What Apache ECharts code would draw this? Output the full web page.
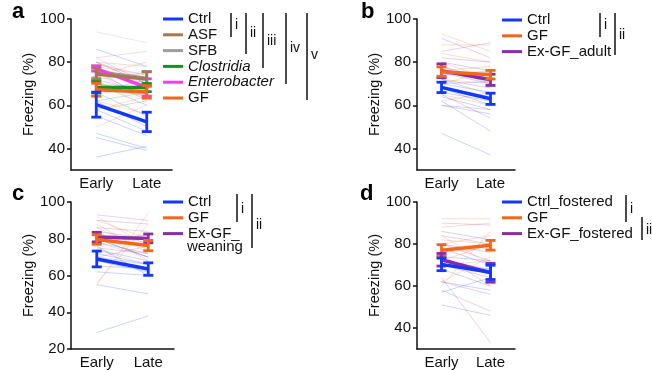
<!DOCTYPE html>
<html>
<head>
<meta charset="utf-8">
<script src="https://cdn.jsdelivr.net/npm/echarts@6/dist/echarts.min.js"></script>
<style>
  html, body {margin: 0; padding: 0; background: #fff;}
  #chart {width: 652px; height: 370px;}
</style>
</head>
<body>
<div id="chart"></div>
<script>
const phases = ['Early', 'Late'];

// panel a
const aGroups = ['Ctrl', 'ASF', 'SFB', 'Clostridia', 'Enterobacter', 'GF'];
const aMean = [[60.3, 52.3], [74.5, 72.2], [75.5, 72.5], [68.3, 68.2], [77, 68.3], [67.2, 66.2]];
const aSem = [[5.8, 4.5], [2.7, 3.4], [2.8, 3], [2.6, 1.9], [1.2, 4], [3, 2.9]];
const aCtrlEach = [[86, 78], [47, 40], [45, 39], [36, 41], [66, 55], [62, 50], [58, 48], [70, 60], [55, 46], [76, 63]];
const aAsfEach = [[82, 85], [70, 66], [78, 74], [65, 70], [76, 68], [80, 78], [71, 63]];
const aSfbEach = [[94, 89], [80, 70], [72, 65], [75, 73], [70, 68], [77, 67]];
const aClosEach = [[80, 70], [62, 66], [72, 75], [58, 62], [70, 64], [66, 72], [68, 67]];
const aEntEach = [[82, 70], [75, 62], [79, 74], [72, 66], [77, 70]];
const aGfEach = [[50, 60], [74, 80], [80, 72], [62, 56], [70, 66], [58, 64], [75, 64]];

// panel b
const bGroups = ['Ctrl', 'GF', 'Ex-GF_adult'];
const bMean = [[68.3, 63], [75.6, 74.2], [76, 71.8]];
const bSem = [[2.4, 2.6], [2.2, 2], [3.2, 2.6]];
const bCtrlEach = [[47, 37], [62, 48], [70, 66], [75, 70], [64, 58], [60, 56], [72, 68], [80, 76], [66, 62], [78, 72], [68, 60]];
const bGfEach = [[93, 85], [88, 88], [80, 72], [70, 76], [65, 60], [62, 66], [76, 78], [72, 70], [84, 80], [68, 64]];
const bExEach = [[91, 82], [85, 89], [78, 70], [72, 65], [65, 54], [60, 58], [74, 76], [82, 80], [70, 71]];

// panel c
const cGroups = ['Ctrl', 'GF', 'Ex-GF_weaning'];
const cMean = [[69, 63.5], [79.6, 76.3], [80.9, 80.2]];
const cSem = [[4.3, 3.4], [2.6, 2.8], [2.6, 2.4]];
const cCtrlEach = [[29, 38], [55, 50], [68, 62], [72, 66], [76, 60], [80, 70], [65, 64], [62, 60], [74, 68], [78, 72], [70, 66]];
const cGfEach = [[55, 94], [56, 88], [88, 72], [92, 76], [84, 68], [78, 70], [80, 82], [86, 74], [74, 66], [90, 80]];
const cExEach = [[93, 90], [90, 88], [86, 84], [82, 78], [78, 82], [75, 72], [70, 76], [84, 80], [80, 70]];

// panel d
const dGroups = ['Ctrl_fostered', 'GF', 'Ex-GF_fostered'];
const dMean = [[70.3, 66.5], [77, 79.4], [72.5, 66.3]];
const dSem = [[3, 3.4], [2.7, 2.3], [3, 4.5]];
const dCtrlEach = [[51, 46], [57, 64], [86, 82], [78, 70], [72, 66], [68, 60], [74, 72], [80, 76], [62, 58], [70, 68]];
const dGfEach = [[92, 92], [88, 90], [60, 86], [62, 74], [76, 78], [80, 84], [84, 70], [72, 80], [70, 72], [82, 80]];
const dExEach = [[64, 33], [90, 89], [80, 72], [75, 60], [58, 48], [70, 64], [62, 56], [84, 80], [72, 68]];

const FONT = 'Liberation Sans, Arial, sans-serif';
const INK = '#111';

const palette = {
  'Ctrl': '#1237ff',
  'ASF': '#a8774e',
  'SFB': '#9d9d9d',
  'Clostridia': '#10941c',
  'Enterobacter': '#f43cf2',
  'GF': '#f5661a',
  'Ex-GF_adult': '#8a2ca6',
  'Ex-GF_weaning': '#8a2ca6',
  'Ctrl_fostered': '#1237ff',
  'Ex-GF_fostered': '#8a2ca6'
};

const grids = [
  {left: 71, top: 19, width: 101, height: 151},
  {left: 417, top: 19, width: 98, height: 151},
  {left: 71, top: 202, width: 103, height: 150},
  {left: 417, top: 202, width: 98, height: 150}
];
const yRanges = [[30, 100], [30, 100], [20, 100], [30, 100]];

const xAxes = grids.map((g, i) => ({
  type: 'category',
  gridIndex: i,
  data: phases,
  boundaryGap: true,
  axisTick: {show: false},
  axisLine: {lineStyle: {color: INK, width: 1.5}},
  axisLabel: {color: INK, fontSize: 15, fontFamily: FONT, margin: 6}
}));

const yAxes = grids.map((g, i) => {
  const ticks = [];
  for (let v = 100; v >= yRanges[i][0]; v -= 20) ticks.unshift(v);
  return {
    type: 'value',
    gridIndex: i,
    min: yRanges[i][0],
    max: yRanges[i][1],
    name: 'Freezing (%)',
    nameLocation: 'middle',
    nameGap: 27,
    nameTextStyle: {color: INK, fontSize: 14.5, fontFamily: FONT},
    splitLine: {show: false},
    axisLine: {show: true, lineStyle: {color: INK, width: 1.5}},
    axisTick: {show: true, length: 4, lineStyle: {color: INK, width: 1.5}, customValues: ticks},
    axisLabel: {color: INK, fontSize: 15, fontFamily: FONT, margin: 6, customValues: ticks}
  };
});

function renderErr(params, api) {
  const x = api.value(0);
  const lo = api.coord([x, api.value(1)]);
  const hi = api.coord([x, api.value(2)]);
  const w = 5;
  const style = {stroke: api.visual('color'), lineWidth: 2.8};
  return {
    type: 'group',
    children: [
      {type: 'line', shape: {x1: lo[0], y1: lo[1], x2: hi[0], y2: hi[1]}, style},
      {type: 'line', shape: {x1: lo[0] - w, y1: lo[1], x2: lo[0] + w, y2: lo[1]}, style},
      {type: 'line', shape: {x1: hi[0] - w, y1: hi[1], x2: hi[0] + w, y2: hi[1]}, style}
    ]
  };
}

const series = [];

function addPanel(idx, names, means, sems, eachList, order) {
  // faint per-animal lines first
  names.forEach((name, k) => {
    eachList[k].forEach(pair => {
      series.push({
        type: 'line',
        name: '_' + name,
        xAxisIndex: idx,
        yAxisIndex: idx,
        data: pair,
        symbol: 'none',
        silent: true,
        color: palette[name],
        lineStyle: {width: 1, opacity: 0.22},
        z: 1
      });
    });
  });
  // group means with error bars
  order.forEach((k, rank) => {
    const name = names[k];
    series.push({
      type: 'line',
      name: name,
      xAxisIndex: idx,
      yAxisIndex: idx,
      data: means[k],
      symbol: 'none',
      color: palette[name],
      lineStyle: {width: 3.5},
      z: 10 + rank * 2
    });
    series.push({
      type: 'custom',
      name: name + '_err',
      xAxisIndex: idx,
      yAxisIndex: idx,
      renderItem: renderErr,
      color: palette[name],
      encode: {x: 0, y: [1, 2]},
      data: means[k].map((m, j) => [j, m - sems[k][j], m + sems[k][j]]),
      z: 11 + rank * 2
    });
  });
}

addPanel(0, aGroups, aMean, aSem, [aCtrlEach, aAsfEach, aSfbEach, aClosEach, aEntEach, aGfEach], [2, 4, 1, 3, 5, 0]);
addPanel(1, bGroups, bMean, bSem, [bCtrlEach, bGfEach, bExEach], [2, 1, 0]);
addPanel(2, cGroups, cMean, cSem, [cCtrlEach, cGfEach, cExEach], [2, 1, 0]);
addPanel(3, dGroups, dMean, dSem, [dCtrlEach, dGfEach, dExEach], [1, 2, 0]);

function legendFor(names, left, top) {
  return {
    orient: 'vertical',
    left: left,
    top: top,
    icon: 'rect',
    itemWidth: 20,
    itemHeight: 3,
    itemGap: 0.8,
    padding: 0,
    selectedMode: false,
    textStyle: {color: INK, fontSize: 15, fontFamily: FONT, lineHeight: 15, padding: [0, 0, 0, 0]},
    formatter: n => n === 'Ex-GF_weaning' ? 'Ex-GF_' : n,
    data: names.map(n => (n === 'Clostridia' || n === 'Enterobacter')
      ? {name: n, textStyle: {fontStyle: 'italic'}}
      : {name: n})
  };
}

function bracket(x, y1, y2, label, ly) {
  return [
    {type: 'line', shape: {x1: x, y1: y1, x2: x, y2: y2}, style: {stroke: INK, lineWidth: 1.5}},
    {type: 'text', x: x + 4, y: ly, style: {text: label, fill: INK, font: '14px ' + FONT, textVerticalAlign: 'middle'}}
  ];
}

const graphics = [].concat(
  bracket(231, 13, 37, 'i', 25),
  bracket(246, 13, 54, 'ii', 33),
  bracket(263, 13, 68, 'iii', 41),
  bracket(286, 13, 84, 'iv', 48),
  bracket(307, 13, 100, 'v', 55),
  bracket(600, 13, 37, 'i', 25),
  bracket(615, 13, 55, 'ii', 35),
  bracket(237, 194, 222, 'i', 209),
  bracket(252, 194, 248, 'ii', 225),
  bracket(626, 195, 222, 'i', 209),
  bracket(642, 217, 240, 'ii', 230),
  [{type: 'text', x: 187, y: 247, style: {text: 'weaning', fill: INK, font: '15px ' + FONT, textVerticalAlign: 'middle'}}]
);

const titleStyle = {color: '#000', fontSize: 22, fontWeight: 'bold', fontFamily: FONT};

const chart = echarts.init(document.getElementById('chart'), null, {renderer: 'canvas'});
chart.setOption({
  animation: false,
  backgroundColor: '#fff',
  title: [
    {text: 'a', left: 12, top: 1, padding: 0, textStyle: titleStyle},
    {text: 'b', left: 361, top: 1, padding: 0, textStyle: titleStyle},
    {text: 'c', left: 12, top: 183, padding: 0, textStyle: titleStyle},
    {text: 'd', left: 360, top: 183, padding: 0, textStyle: titleStyle}
  ],
  grid: grids,
  xAxis: xAxes,
  yAxis: yAxes,
  legend: [
    legendFor(aGroups, 163, 11.5),
    legendFor(bGroups, 502, 12.5),
    legendFor(cGroups, 163, 194.5),
    legendFor(dGroups, 502, 194.5)
  ],
  graphic: graphics,
  series: series
});
</script>
</body>
</html>
